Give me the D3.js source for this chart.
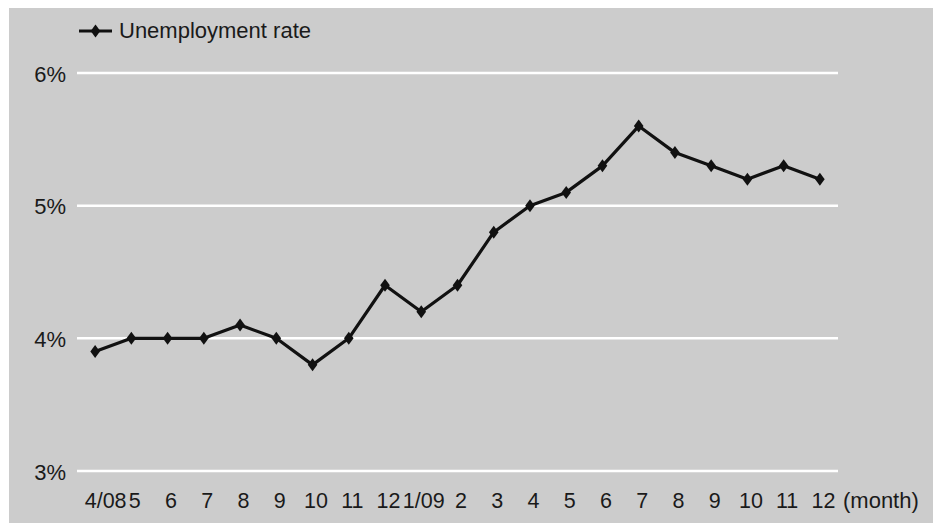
<!DOCTYPE html>
<html><head><meta charset="utf-8">
<script src="https://cdn.jsdelivr.net/npm/d3@7"></script>
<style>
html,body{margin:0;padding:0;background:#fff;}
svg{display:block;font-family:"Liberation Sans",Arial,sans-serif;}
</style></head>
<body>
<svg id="chart" width="933" height="523"></svg>
<script>
const months = ["4/08","5","6","7","8","9","10","11","12","1/09","2","3","4","5","6","7","8","9","10","11","12"];
const unemployment = [3.9,4.0,4.0,4.0,4.1,4.0,3.8,4.0,4.4,4.2,4.4,4.8,5.0,5.1,5.3,5.6,5.4,5.3,5.2,5.3,5.2];
const yTicks = [3,4,5,6];
const seriesName = "Unemployment rate";
const xUnit = "(month)";

const svg = d3.select("#chart");
svg.append("rect").attr("x",9).attr("y",8).attr("width",924).attr("height",515).attr("fill","#cccccc");

const x = d3.scalePoint().domain(d3.range(months.length)).range([77,838]).padding(0.5);
const y = d3.scaleLinear().domain([3,6]).range([471,73]);

const fs = 21.5;
const textColor = "#1a1a1a";
// gridlines
svg.append("g").selectAll("line").data(yTicks).join("line")
  .attr("x1",77).attr("x2",838)
  .attr("y1",d=>y(d)).attr("y2",d=>y(d))
  .attr("stroke","#ffffff").attr("stroke-width",2.5);

// y axis labels
const yAxis = d3.axisLeft(y).tickValues(yTicks).tickFormat(d=>d+"%").tickSize(0).tickPadding(0);
const ya = svg.append("g").attr("transform","translate(66,1)").call(yAxis);
ya.select(".domain").remove();
ya.selectAll("text").attr("font-size",22).attr("fill",textColor).attr("font-family","Liberation Sans, Arial, sans-serif");

// x axis labels
const xAxis = d3.axisBottom(x).tickFormat(i=>months[i]).tickSize(0).tickPadding(0);
const xa = svg.append("g").attr("transform","translate(2,0)").call(xAxis);
xa.select(".domain").remove();
xa.selectAll("text").attr("font-size",fs).attr("fill",textColor).attr("font-family","Liberation Sans, Arial, sans-serif")
  .attr("y",508).attr("dy",null)
  .attr("dx",(i)=> i===0 ? 8 : (i===9 ? 0 : 1));

svg.append("text").attr("x",843).attr("y",508).attr("font-size",22).attr("fill",textColor).text(xUnit);

// line
const line = d3.line().x((d,i)=>x(i)).y(d=>y(d));
svg.append("path").datum(unemployment).attr("d",line)
  .attr("fill","none").attr("stroke","#111").attr("stroke-width",3.2).attr("stroke-linejoin","round");

const diamond = "M0,-6.5L4.8,0L0,6.5L-4.8,0Z";
svg.append("g").selectAll("path").data(unemployment).join("path")
  .attr("transform",(d,i)=>`translate(${x(i)},${y(d)})`)
  .attr("d",diamond).attr("fill","#111");

// legend
svg.append("line").attr("x1",79).attr("x2",112).attr("y1",31).attr("y2",31).attr("stroke","#111").attr("stroke-width",3);
svg.append("path").attr("transform","translate(95.5,31)").attr("d",diamond).attr("fill","#111");
svg.append("text").attr("x",119).attr("y",38).attr("font-size",22).attr("fill",textColor).text(seriesName);
</script>
</body></html>
